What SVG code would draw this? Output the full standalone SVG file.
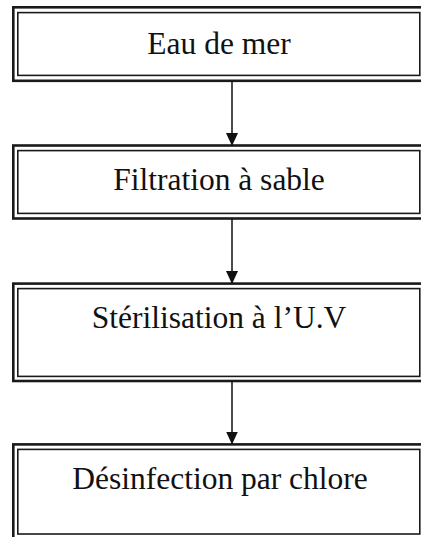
<svg xmlns="http://www.w3.org/2000/svg" width="421" height="537" viewBox="0 0 421 537">
  <style>
    .outer { fill: #ffffff; stroke: #1a1a1a; stroke-width: 2.6; }
    .inner { fill: #ffffff; stroke: #1a1a1a; stroke-width: 1.6; }
    .label { font-family: "Liberation Serif", "Times New Roman", serif; font-size: 31.5px; fill: #111111; text-anchor: middle; }
    .conn { stroke: #111111; stroke-width: 1.5; fill: none; marker-end: url(#arrow); }
  </style>
  <defs>
    <marker id="arrow" markerUnits="userSpaceOnUse" markerWidth="13" markerHeight="12" refX="13" refY="6" orient="auto" viewBox="0 0 13 12">
      <path d="M0,0 L13,6 L0,12 Z" fill="#111111"/>
    </marker>
  </defs>
  <rect width="421" height="537" fill="#ffffff"/>

  <g id="node-eau">
    <rect class="outer" x="13.3" y="7.3" width="414" height="73.5"/>
    <rect class="inner" x="17.8" y="12.6" width="402" height="62.8"/>
    <text class="label" x="219" y="53.5">Eau de mer</text>
  </g>

  <g id="node-filtration">
    <rect class="outer" x="13.3" y="145.5" width="414" height="73"/>
    <rect class="inner" x="17.8" y="150.6" width="402" height="62.8"/>
    <text class="label" x="219" y="190">Filtration à sable</text>
  </g>

  <g id="node-sterilisation">
    <rect class="outer" x="13.3" y="283.6" width="414" height="97.4"/>
    <rect class="inner" x="17.8" y="288.6" width="402" height="87.8"/>
    <text class="label" x="219" y="328">Stérilisation à l’U.V</text>
  </g>

  <g id="node-desinfection">
    <rect class="outer" x="13.3" y="444.4" width="414" height="100"/>
    <rect class="inner" x="17.8" y="449.4" width="402" height="84.6"/>
    <text class="label" x="220" y="488.5">Désinfection par chlore</text>
  </g>

  <g id="connectors">
    <line class="conn" x1="232" y1="81" x2="232" y2="146"/>
    <line class="conn" x1="232" y1="219" x2="232" y2="284"/>
    <line class="conn" x1="232" y1="381" x2="232" y2="444.5"/>
  </g>
</svg>
